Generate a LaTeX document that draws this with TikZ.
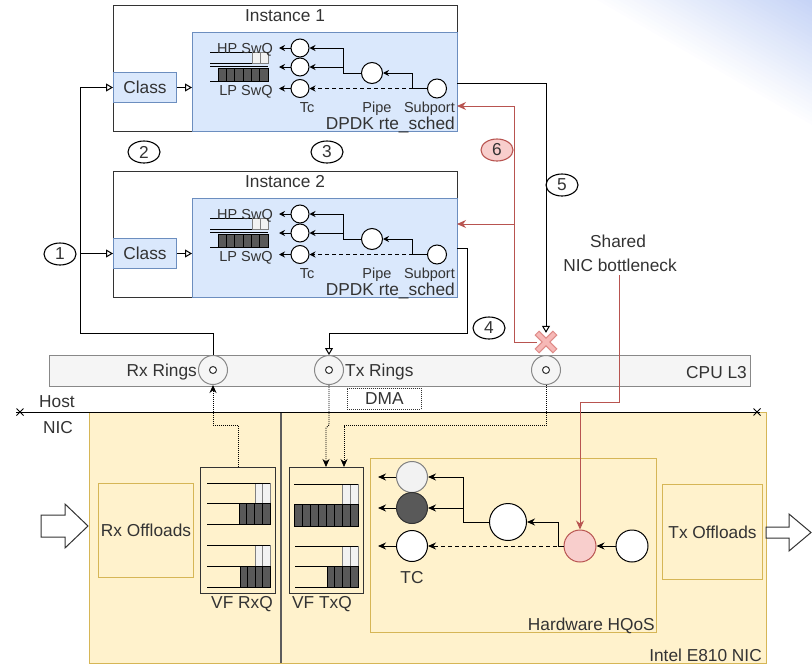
\documentclass[tikz,border=0pt]{standalone}
\usepackage{fontspec}
\setmainfont{Liberation Sans}
\usetikzlibrary{arrows.meta,shapes.geometric,calc}
\definecolor{bluefill}{HTML}{DAE8FC}
\definecolor{bluedraw}{HTML}{6C8EBF}
\definecolor{yelfill}{HTML}{FFF2CC}
\definecolor{yeldraw}{HTML}{D6B656}
\definecolor{redfill}{HTML}{F8CECC}
\definecolor{reddraw}{HTML}{B85450}
\definecolor{grayfill}{HTML}{F5F5F5}
\definecolor{graydraw}{HTML}{888888}
\definecolor{txtc}{HTML}{333333}
\definecolor{darkcell}{HTML}{595959}
\definecolor{lightcell}{HTML}{F2F2F2}
\definecolor{cornerblue}{HTML}{C6D4F6}
\definecolor{xout}{HTML}{DE8A87}
\definecolor{xin}{HTML}{F6B8B6}

\tikzset{
  bigtxt/.style={font=\fontsize{17.3}{20}\selectfont, text=txtc, inner sep=0pt},
  smalltxt/.style={font=\fontsize{14.5}{17}\selectfont, text=txtc, inner sep=0pt},
  instbox/.style={draw=txtc, line width=1.2pt, rectangle, inner sep=0pt, anchor=north west},
  bluebox/.style={draw=bluedraw, fill=bluefill, line width=1pt, rectangle, inner sep=0pt, anchor=north west},
  yelbox/.style={draw=yeldraw, fill=yelfill, line width=1pt, rectangle, inner sep=0pt, anchor=north west},
  qbox/.style={draw=txtc, fill=yelfill, line width=1.2pt, rectangle, inner sep=0pt, anchor=north west},
  circ/.style={circle, draw=black, fill=white, line width=1pt, inner sep=0pt},
  ringc/.style={circle, draw=graydraw, fill=grayfill, line width=1pt, inner sep=0pt, minimum size=29pt},
  ringi/.style={circle, draw=txtc, fill=white, line width=1pt, inner sep=0pt, minimum size=7pt},
  numc/.style={ellipse, draw=black, fill=white, line width=1.1pt, minimum width=32pt, minimum height=22pt, inner sep=0pt, font=\fontsize{17.3}{20}\selectfont, text=txtc},
  qline/.style={draw=black, line width=1pt},
  lcell/.style={draw=gray, fill=lightcell, line width=0.8pt},
  dcell/.style={draw=black, fill=darkcell, line width=0.8pt},
  sarr/.style={draw=black, line width=1pt, -{Stealth[length=6pt,width=6pt]}},
  harr/.style={draw=black, line width=1pt, -{Stealth[length=8pt,width=7pt]}},
  oarr/.style={draw=black, line width=1pt, -{Triangle[open,length=7pt,width=8pt]}},
  redarr/.style={draw=reddraw, line width=1pt, -{Stealth[length=9pt,width=8pt]}},
  redline/.style={draw=reddraw, line width=1pt},
  dotarr/.style={draw=black, line width=0.8pt, dash pattern=on 1pt off 1pt, -{Stealth[length=8pt,width=7pt]}},
  dashl/.style={dash pattern=on 4pt off 3pt},
}

\newcommand\instblock[3]{%
\begin{scope}[shift={(0,#2)}]
\node[instbox, minimum width=344pt, minimum height=126pt] (#1outer) at (113,5) {};
\node[bigtxt, anchor=base] (#1title) at (285,21) {Instance #3};
\node[bluebox, minimum width=265pt, minimum height=99pt] (#1blue) at (192,32) {};
\node[bluebox, bigtxt, minimum width=63pt, minimum height=30pt] (#1class) at (113,72) {Class};
\draw[qline] (210,52) -- (268,52);
\draw[qline] (210,63.5) -- (268,63.5);
\draw[qline] (210,66) -- (268,66);
\draw[qline] (210,81) -- (268,81);
\draw[lcell] (252,52) rectangle (260,63.5);
\draw[lcell] (260,52) rectangle (268,63.5);
\foreach \i in {0,...,5}{\draw[dcell] ({218+\i*50/6},68.5) rectangle ({218+(\i+1)*50/6},81);}
\node[smalltxt, anchor=base] (#1hp) at (245,53) {HP SwQ};
\node[smalltxt, anchor=base] (#1lp) at (246,95) {LP SwQ};
\node[circ, minimum size=18pt] (#1ta) at (300,48) {};
\node[circ, minimum size=18pt] (#1tb) at (300,67) {};
\node[circ, minimum size=18pt] (#1tc) at (300,88.5) {};
\node[circ, minimum size=21pt] (#1pipe) at (372,73) {};
\node[circ, minimum size=19pt] (#1sub) at (437,88.5) {};
\coordinate (#1qa) at (279,48);
\coordinate (#1qb) at (279,67);
\coordinate (#1qc) at (279,88.5);
\draw[sarr] (#1ta.west) -- (#1qa);
\draw[sarr] (#1tb.west) -- (#1qb);
\draw[sarr] (#1tc.west) -- (#1qc);
\draw[sarr] (#1pipe.west) -- ++(-18,0) |- (#1ta.east);
\draw[sarr] (#1pipe.west) -- ++(-18,0) |- (#1tb.east);
\draw[sarr] (#1sub.west) -- ++(-15,0) |- (#1pipe.east);
\draw[sarr, dashl] (#1sub.west) -- (#1tc.east);
\node[smalltxt, anchor=base] (#1tcl) at (307,112.5) {Tc};
\node[smalltxt, anchor=base] (#1pipel) at (377,112.5) {Pipe};
\node[smalltxt, anchor=base east] (#1subl) at (455,112.5) {Subport};
\node[bigtxt, anchor=base east] (#1dpdk) at (455,129.5) {DPDK rte\_sched};
\draw[oarr] (#1class.east) -- (#1class.east -| #1blue.west);
\end{scope}}

\begin{document}
\begin{tikzpicture}[x=1pt,y=-1pt]
\useasboundingbox (0,0) rectangle (812,664);
% corner gradient
\foreach \k in {0,...,29}{
  \pgfmathsetmacro\myT{1-\k/30}
  \pgfmathsetmacro\myP{100*(\k+1)/30}
  \fill[cornerblue!\myP!white] (812,0) -- ({812-215*\myT},0) -- (812,{125*\myT}) -- cycle;
}

\instblock{ia}{0}{1}
\instblock{ib}{166}{2}

% CPU L3 bar
\node[rectangle, draw=graydraw, fill=grayfill, line width=1pt, anchor=north west, minimum width=701pt, minimum height=31pt, inner sep=0pt] (l3) at (49,355) {};
\node[bigtxt, anchor=base east] (l3l) at (747,378) {CPU L3};
\node[ringc] (rx) at (213,370) {};
\node[ringi] (rxi) at (213,370) {};
\node[ringc] (tx) at (329,370) {};
\node[ringi] (txi) at (329,370) {};
\node[ringc] (r3) at (546,370) {};
\node[ringi] (r3i) at (546,370) {};
\node[bigtxt, anchor=base east] (rxl) at (197,376) {Rx Rings};
\node[bigtxt, anchor=base west] (txl) at (345,376) {Tx Rings};

% NIC region
\node[yelbox, minimum width=677pt, minimum height=251pt] (nic) at (89,412) {};
\draw[draw=txtc!80, line width=1.2pt] (281,412) -- (281,663);
\draw[draw=black, line width=1pt] (16,412) -- (760,412);
\draw[draw=black, line width=1pt] (16.5,408.5) -- (23.5,415.5) (16.5,415.5) -- (23.5,408.5);
\draw[draw=black, line width=1pt] (753.5,408.5) -- (760.5,415.5) (753.5,415.5) -- (760.5,408.5);
\node[bigtxt, anchor=base] (hostl) at (57,407) {Host};
\node[bigtxt, anchor=base] (nicl) at (58,433) {NIC};
\node[bigtxt, anchor=base east] (e810) at (762,661) {Intel E810 NIC};

\node[draw=txtc, dash pattern=on 1pt off 1pt, line width=0.8pt, minimum width=74pt, minimum height=21pt, anchor=north west, bigtxt] (dma) at (347,388) {DMA};

\node[yelbox, bigtxt, minimum width=95pt, minimum height=94pt] (rxo) at (98,483) {Rx Offloads};
\node[yelbox, bigtxt, minimum width=100pt, minimum height=95pt] (txo) at (662,484) {Tx Offloads};
\node[yelbox, minimum width=286pt, minimum height=174pt] (hqos) at (370,458) {};
\node[bigtxt, anchor=base east] (hqosl) at (655,630) {Hardware HQoS};

% big arrows
\draw[draw=txtc, fill=white, line width=1pt] (41,515) -- (65,515) -- (65,504) -- (88,526) -- (65,548) -- (65,537) -- (41,537) -- cycle;
\draw[draw=txtc, fill=white, line width=1pt] (766,527) -- (789,527) -- (789,514) -- (811,532.5) -- (789,551) -- (789,538) -- (766,538) -- cycle;

% VF queues
\node[qbox, minimum width=75pt, minimum height=126pt] (rxq) at (200,467) {};
\node[qbox, minimum width=74pt, minimum height=126pt] (txq) at (289,467) {};
\node[bigtxt, anchor=base] (rxql) at (242,608) {VF RxQ};
\node[bigtxt, anchor=base] (txql) at (322,608) {VF TxQ};
% RxQ cells
\draw[lcell] (255,483) rectangle (262.5,503);
\draw[lcell] (262.5,483) rectangle (270,503);
\foreach \i in {0,...,3}{\draw[dcell] ({239+\i*7.75},503) rectangle ({239+(\i+1)*7.75},524);}
\draw[lcell] (255,545) rectangle (262.5,566);
\draw[lcell] (262.5,545) rectangle (270,566);
\foreach \i in {0,...,3}{\draw[dcell] ({240+\i*7.5},566) rectangle ({240+(\i+1)*7.5},587);}
\draw[qline] (207,483) -- (270,483) (207,503) -- (270,503) (207,524) -- (270,524);
\draw[qline] (207,545) -- (270,545) (207,566) -- (270,566) (207,587) -- (270,587);
% TxQ cells
\draw[lcell] (342,484) rectangle (350,504);
\draw[lcell] (350,484) rectangle (358,504);
\foreach \i in {0,...,7}{\draw[dcell] ({294+\i*8},504) rectangle ({294+(\i+1)*8},526);}
\draw[lcell] (342,546) rectangle (350,566);
\draw[lcell] (350,546) rectangle (358,566);
\foreach \i in {0,...,3}{\draw[dcell] ({327+\i*7.75},566) rectangle ({327+(\i+1)*7.75},587);}
\draw[qline] (294,484) -- (358,484) (294,504) -- (358,504) (294,526) -- (358,526);
\draw[qline] (295,546) -- (358,546) (295,566) -- (358,566) (295,587) -- (358,587);

% HQoS tree
\node[circ, fill=lightcell, draw=gray, minimum size=31pt] (tca) at (412,477) {};
\node[circ, fill=darkcell, draw=txtc, minimum size=31pt] (tcb) at (412,508) {};
\node[circ, minimum size=31pt] (tcc) at (412,546) {};
\node[circ, minimum size=37pt] (hpipe) at (508,522) {};
\node[circ, fill=redfill, draw=reddraw, minimum size=32pt] (hred) at (580,546) {};
\node[circ, minimum size=32pt] (hsub) at (632,546) {};
\node[bigtxt, anchor=base] (tcl) at (412,583) {TC};
\coordinate (ha) at (378,477);
\coordinate (hb) at (378,508);
\coordinate (hc) at (378,546);
\draw[harr] (tca.west) -- (ha);
\draw[harr] (tcb.west) -- (hb);
\draw[harr] (tcc.west) -- (hc);
\draw[harr] (hpipe.west) -- ++(-26,0) |- (tca.east);
\draw[harr] (hpipe.west) -- ++(-26,0) |- (tcb.east);
\draw[harr] (hred.west) -- ++(-5,0) |- (hpipe.east);
\draw[harr, dashl] (hred.west) -- (tcc.east);
\draw[harr] (hsub.west) -- (hred.east);

% numbers
\node[numc] (n1) at (60,254) {1};
\node[numc] (n2) at (144,152) {2};
\node[numc] (n3) at (327,152) {3};
\node[numc] (n4) at (489,328) {4};
\node[numc] (n5) at (562,185) {5};
\node[numc, fill=redfill, draw=reddraw] (n6) at (497,150) {6};

% X mark
\node[minimum size=18pt, inner sep=0pt] (xm) at (546,342) {};

% Rx path to classes
\coordinate (rxj) at (80,333);
\draw[oarr] (rx.north) |- (rxj) |- (iaclass.west);
\draw[oarr] (rxj) |- (ibclass.west);

% instance outputs
\coordinate (oa) at (457,83);
\draw[oarr] (oa) -| (xm.north);
\coordinate (ob) at (457,248);
\coordinate (obj) at (467,333);
\draw[oarr] (ob) -| (obj) -| (tx.north);

% red feedback
\coordinate (rj) at (514,342);
\coordinate (ra) at (457,106);
\coordinate (rb) at (457,224);
\draw[redarr] (xm.west) -- (rj) |- (ra);
\draw[redarr] (rj) |- (rb);

% X drawing
\draw[xout, line width=6.5pt] (xm.north west) -- (xm.south east) (xm.north east) -- (xm.south west);
\draw[xin, line width=4pt] ([shift={(0.8,0.8)}]xm.north west) -- ([shift={(-0.8,-0.8)}]xm.south east) ([shift={(-0.8,0.8)}]xm.north east) -- ([shift={(0.8,-0.8)}]xm.south west);

% DMA dotted paths
\coordinate (rxqo) at (238,467);
\draw[dotarr] (rxqo) -- ++(0,-42) -| (rx.south);
\coordinate (txq1) at (326,467);
\coordinate (txq2) at (344,467);
\draw[dotarr] (tx.south) -- ++(0,40) -- ++(-3,3) -- (txq1);
\draw[dotarr] (r3.south) -- ++(0,40.5) -| (txq2);

% shared bottleneck
\node[bigtxt, anchor=base] (shared) at (618,247) {Shared};
\node[bigtxt, anchor=base] (bneck) at (620,271) {NIC bottleneck};
\coordinate (bs) at (619,275);
\coordinate (bj) at (619,402);
\draw[redarr] (bs) -- (bj) -| (hred.north);
\end{tikzpicture}
\end{document}
